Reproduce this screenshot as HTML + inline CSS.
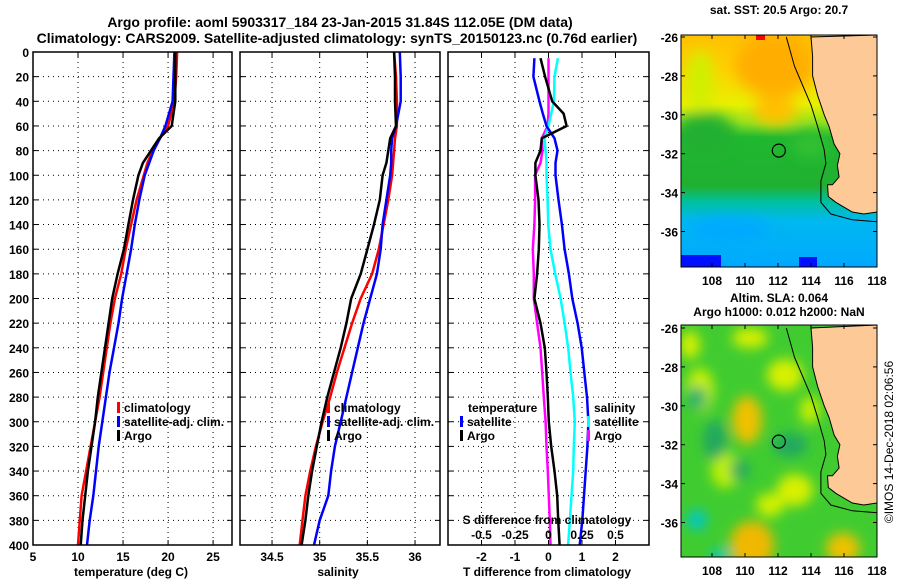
<!DOCTYPE html>
<html><head><meta charset="utf-8"><style>
html,body{margin:0;padding:0;background:#fff;}
svg{display:block;font-family:"Liberation Sans",sans-serif;font-weight:bold;}
</style></head><body>
<svg id="fig" width="900" height="580" viewBox="0 0 900 580" xmlns="http://www.w3.org/2000/svg">
<text x="340" y="27" font-size="14" text-anchor="middle">Argo profile: aoml 5903317_184 23-Jan-2015 31.84S 112.05E (DM data)</text>
<text x="337" y="43" font-size="14" text-anchor="middle">Climatology: CARS2009. Satellite-adjusted climatology: synTS_20150123.nc (0.76d earlier)</text>
<g id="plots"></g>
<g id="maps"></g>
<text transform="translate(893,442) rotate(-90)" font-size="12" font-weight="normal" text-anchor="middle">©IMOS 14-Dec-2018 02:06:56</text>
</svg>
<script>
// ---- data ----
const depthTS = [0,20,40,60,70,80,90,100,120,140,160,180,200,220,240,260,280,300,320,340,360,380,400];
const tempArgo = [20.8,20.8,20.8,20.4,19.0,18.1,17.2,16.7,16.1,15.6,15.1,14.4,13.8,13.4,13.0,12.6,12.2,11.9,11.5,11.1,10.8,10.5,10.3];
const tempClim = [21.0,20.9,20.7,20.0,19.1,18.3,17.7,17.3,16.5,15.9,15.3,14.8,14.1,13.6,13.2,12.8,12.4,11.9,11.4,10.9,10.4,10.2,10.0];
const tempSat = [20.7,20.6,20.5,19.7,19.1,18.4,17.9,17.4,16.8,16.3,15.9,15.4,14.9,14.5,14.0,13.5,13.1,12.7,12.3,12.0,11.7,11.3,11.0];
const salArgo = [35.78,35.79,35.79,35.80,35.74,35.72,35.70,35.66,35.63,35.57,35.50,35.43,35.33,35.28,35.22,35.15,35.08,35.02,34.97,34.92,34.88,34.85,34.81];
const salClim = [35.78,35.80,35.81,35.81,35.79,35.78,35.77,35.76,35.72,35.67,35.62,35.55,35.43,35.34,35.26,35.18,35.11,35.03,34.96,34.90,34.85,34.82,34.79];
const salSat = [35.84,35.85,35.85,35.80,35.76,35.75,35.75,35.74,35.70,35.66,35.64,35.60,35.53,35.46,35.40,35.34,35.28,35.22,35.16,35.12,35.09,35.00,34.94];
const depthDiff = [5,20,40,50,60,70,80,90,100,120,140,160,180,200,220,240,260,280,300,320,340,360,380,400];
const tDiffArgo = [-0.24,-0.1,0.11,0.45,0.54,-0.2,-0.24,-0.39,-0.39,-0.3,-0.27,-0.29,-0.34,-0.42,-0.24,-0.11,-0.06,-0.02,0.01,0.08,0.18,0.26,0.29,0.33];
const tDiffSat = [-0.42,-0.45,-0.27,-0.17,-0.06,0.18,0.27,0.21,0.21,0.3,0.4,0.48,0.61,0.71,0.87,0.99,1.07,1.15,1.19,1.16,1.11,1.06,1.01,0.93];
const sDiffArgo = [0.0,0.0,0.0,0.0,-0.007,-0.05,-0.045,-0.06,-0.1,-0.1,-0.105,-0.117,-0.11,-0.11,-0.085,-0.06,-0.047,-0.035,-0.022,-0.015,-0.005,0.002,0.01,0.015];
const sDiffSat = [0.07,0.045,0.04,0.02,0.0,-0.03,-0.022,-0.015,-0.015,-0.007,-0.002,0.015,0.05,0.09,0.12,0.147,0.164,0.184,0.196,0.189,0.184,0.172,0.16,0.146];
const depthTicks = [0,20,40,60,80,100,120,140,160,180,200,220,240,260,280,300,320,340,360,380,400];
const tempTicks = [5,10,15,20,25];
const salTicks = [34.5,35,35.5,36];
const tDiffTicks = [-2,-1,0,1,2];
const sDiffTicks = [-0.5,-0.25,0,0.25,0.5];
const lonTicks = [108,110,112,114,116,118];
const latTicks = [-26,-28,-30,-32,-34,-36];
const argoPos = [112.05,-31.84];

const NS='http://www.w3.org/2000/svg';
function mk(tag,attrs,parent,txt){const e=document.createElementNS(NS,tag);for(const k in attrs)e.setAttribute(k,attrs[k]);if(txt!==undefined)e.textContent=txt;parent.appendChild(e);return e;}
const plots=document.getElementById('plots');
const top0=52,bot=545;
const yD=d=>top0+(d/400)*(bot-top0);

function panel(name,x0,x1,dmin,dmax,ticks,fmt,showY){
  const g=mk('g',{},plots);
  
  
  const xs=v=>x0+(v-dmin)/(dmax-dmin)*(x1-x0);
  mk('rect',{x:x0,y:top0,width:x1-x0,height:bot-top0,fill:'#fff',stroke:'none'},g);
  depthTicks.forEach(d=>{
    const y=yD(d);
    if(d>0&&d<400)mk('line',{x1:x0,x2:x1,y1:y,y2:y,stroke:'#000','stroke-width':1,'stroke-dasharray':'1,4'},g);
    mk('line',{x1:x0,x2:x0+5,y1:y,y2:y,stroke:'#000'},g);
    mk('line',{x1:x1-5,x2:x1,y1:y,y2:y,stroke:'#000'},g);
    if(showY){const t=mk('text',{x:x0-4,y:y+5,'font-size':12,'text-anchor':'end'},g,String(d));}
  });
  ticks.forEach(v=>{
    const x=xs(v);
    if(x>x0+1&&x<x1-1)mk('line',{x1:x,x2:x,y1:top0,y2:bot,stroke:'#000','stroke-dasharray':'1,4'},g);
    mk('line',{x1:x,x2:x,y1:bot,y2:bot-5,stroke:'#000'},g);
    mk('line',{x1:x,x2:x,y1:top0,y2:top0+5,stroke:'#000'},g);
    const t=mk('text',{x:x,y:bot+16,'font-size':12,'text-anchor':'middle'},g,fmt(v));
    
    
  });
  return {g,xs};
}
function series(p,vals,depths,color,w,name){
  const pts=vals.map((v,i)=>p.xs(v).toFixed(1)+','+yD(depths[i]).toFixed(1)).join(' ');
  const e=mk('polyline',{points:pts,fill:'none',stroke:color,'stroke-width':w,'stroke-linejoin':'round'},p.g);
  
  
}
function frame(p,x0,x1){mk('rect',{x:x0,y:top0,width:x1-x0,height:bot-top0,fill:'none',stroke:'#000','stroke-width':1.5},p.g);}
function legendEntry(g,x,y,color,label,name){
  const e=mk('g',{},g);
  
  
  mk('rect',{x:x,y:y-10,width:3,height:11,fill:color},e);
  mk('text',{x:x+7,y:y,'font-size':12},e,label);
}

// panel 1 temperature
const p1=panel('temperature-panel',33,232,5,27.1,tempTicks,v=>String(v),true);
series(p1,tempClim,depthTS,'#f00',2.5,'temp-climatology-line');
series(p1,tempSat,depthTS,'#00f',2.5,'temp-satellite-line');
series(p1,tempArgo,depthTS,'#000',2.5,'temp-argo-line');
legendEntry(p1.g,117,412,'#f00','climatology','legend-climatology');
legendEntry(p1.g,117,426,'#00f','satellite-adj. clim.','legend-satellite');
legendEntry(p1.g,117,440,'#000','Argo','legend-argo');
frame(p1,33,232);
{const t=mk('text',{x:131,y:576,'font-size':12,'text-anchor':'middle'},p1.g,'temperature (deg C)');}

// panel 2 salinity
const p2=panel('salinity-panel',240,440,34.164,36.262,salTicks,v=>String(v),false);
series(p2,salClim,depthTS,'#f00',2.5,'sal-climatology-line');
series(p2,salSat,depthTS,'#00f',2.5,'sal-satellite-line');
series(p2,salArgo,depthTS,'#000',2.5,'sal-argo-line');
legendEntry(p2.g,327,412,'#f00','climatology','legend-climatology');
legendEntry(p2.g,327,426,'#00f','satellite-adj. clim.','legend-satellite');
legendEntry(p2.g,327,440,'#000','Argo','legend-argo');
frame(p2,240,440);
{const t=mk('text',{x:338,y:576,'font-size':12,'text-anchor':'middle'},p2.g,'salinity');}

// panel 3 differences
const p3=panel('difference-panel',448,649,-3,3,tDiffTicks,v=>String(v),false);
const sxs=v=>448+(v+0.75)/1.5*(649-448);
const pS={g:p3.g,xs:sxs};
series(pS,sDiffArgo,depthDiff,'#f0f',2.5,'s-diff-argo-line');
series(pS,sDiffSat,depthDiff,'#0ff',2.5,'s-diff-satellite-line');
series(p3,tDiffSat,depthDiff,'#00f',2.5,'t-diff-satellite-line');
series(p3,tDiffArgo,depthDiff,'#000',2.5,'t-diff-argo-line');
{const t=mk('text',{x:468,y:412,'font-size':12},p3.g,'temperature');}
legendEntry(p3.g,460,426,'#00f','satellite','legend-t-satellite');
legendEntry(p3.g,460,440,'#000','Argo','legend-t-argo');
{const t=mk('text',{x:594,y:412,'font-size':12},p3.g,'salinity');}
legendEntry(p3.g,587,426,'#0ff','satellite','legend-s-satellite');
legendEntry(p3.g,587,440,'#f0f','Argo','legend-s-argo');
{const t=mk('text',{x:547,y:524,'font-size':12,'text-anchor':'middle'},p3.g,'S difference from climatology');}
sDiffTicks.forEach(v=>{const t=mk('text',{x:sxs(v),y:539,'font-size':12,'text-anchor':'middle'},p3.g,String(v));});
frame(p3,448,649);
{const t=mk('text',{x:547,y:576,'font-size':12,'text-anchor':'middle'},p3.g,'T difference from climatology');}

// ---- maps ----
const maps=document.getElementById('maps');
const mx0=681,mx1=877;
const lonX=lo=>877-(118-lo)*16.5;
const coast=[[114.0,-26],[114.1,-27],[114.1,-28],[114.4,-29],[114.8,-30],[115.1,-30.6],[115.4,-31.5],[115.75,-32],[115.6,-32.6],[115.7,-33.2],[115.3,-33.6],[115.0,-33.6],[115.05,-34.2],[115.5,-34.5],[116.5,-35.0],[117.2,-35.1],[118,-35.0],[118,-26]];
const shelf=[[112.5,-26],[113.0,-27.5],[113.6,-28.7],[114.0,-29.5],[114.4,-30.6],[114.8,-31.8],[114.9,-32.5],[114.6,-33.4],[114.6,-34.5],[115.2,-35.1],[116.5,-35.4],[118,-35.5]];
function mapPanel(name,top,latTopPx,kind){
  const g=mk('g',{},maps);
  
  
  const latY=la=>latTopPx+(-26-la)*19.45;
  const bottom=top+232;
  const cid='clip'+kind;
  const cp=mk('clipPath',{id:cid},g);mk('rect',{x:mx0,y:top,width:mx1-mx0,height:bottom-top},cp);
  const inner=mk('g',{'clip-path':'url(#'+cid+')'},g);
  if(kind==='sst'){
    const d=mk('defs',{},g);
    const lg=mk('linearGradient',{id:'sstg',x1:0,y1:0,x2:0,y2:1},d);
    [[0,'#ffc000'],[0.15,'#ffd000'],[0.3,'#e8f000'],[0.38,'#90e020'],[0.44,'#20b830'],[0.65,'#20b030'],[0.72,'#00c0a0'],[0.8,'#00b8f0'],[1,'#00a8ff']].forEach(s=>mk('stop',{offset:s[0],'stop-color':s[1]},lg));
    const f=mk('filter',{id:'blur1'},d);mk('feGaussianBlur',{stdDeviation:7},f);
    mk('rect',{x:mx0,y:top,width:196,height:232,fill:'url(#sstg)'},inner);
    const bl=mk('g',{filter:'url(#blur1)'},inner);
    mk('ellipse',{cx:775,cy:65,rx:40,ry:32,fill:'#ffae00'},bl);
    mk('ellipse',{cx:775,cy:110,rx:22,ry:15,fill:'#ffc000'},bl);
    mk('ellipse',{cx:705,cy:135,rx:30,ry:22,fill:'#20b030'},bl);
    mk('ellipse',{cx:700,cy:80,rx:14,ry:30,fill:'#d0f000'},bl);
    mk('ellipse',{cx:810,cy:145,rx:18,ry:14,fill:'#30c030'},bl);
    mk('ellipse',{cx:730,cy:230,rx:40,ry:12,fill:'#00a8ff'},bl);
    mk('rect',{x:681,y:255,width:40,height:12,fill:'#0010ff'},inner);
    mk('rect',{x:799,y:257,width:18,height:10,fill:'#0010ff'},inner);
    mk('rect',{x:756,y:35,width:9,height:5,fill:'#f00'},inner);
  } else {
    const d=mk('defs',{},g);
    const f=mk('filter',{id:'blur2'},d);mk('feGaussianBlur',{stdDeviation:6},f);
    mk('rect',{x:mx0,y:top,width:196,height:232,fill:'#40cc30'},inner);
    const bl=mk('g',{filter:'url(#blur2)'},inner);
    [[747,420,15,24,'#f0c000'],[752,545,22,24,'#f0b800'],[843,548,17,15,'#f0c000'],[750,338,18,10,'#d8f000'],[785,375,18,16,'#d8f000'],[795,490,18,16,'#d8f000'],[700,390,14,22,'#c8f000'],[690,345,10,14,'#d8f000'],[725,470,14,18,'#c0f000'],[810,410,10,14,'#c8f000'],[770,505,14,12,'#d0f000']].forEach(e=>mk('ellipse',{cx:e[0],cy:e[1],rx:e[2],ry:e[3],fill:e[4]},bl));
    [[697,398,10,12,'#20b070'],[697,520,10,10,'#00c8c8'],[715,440,12,20,'#20a860'],[790,445,18,12,'#20a860'],[740,470,10,10,'#20a860'],[720,555,10,6,'#00c8c8']].forEach(e=>mk('ellipse',{cx:e[0],cy:e[1],rx:e[2],ry:e[3],fill:e[4]},bl));
  }
  const cpts=coast.map(p=>lonX(p[0]).toFixed(1)+','+latY(p[1]).toFixed(1));
  const land=mk('polygon',{points:cpts.join(' ')+' '+mx1+','+top,fill:'#fdc996',stroke:'#000','stroke-width':1},inner);
  
  
  mk('polyline',{points:shelf.map(p=>lonX(p[0]).toFixed(1)+','+latY(p[1]).toFixed(1)).join(' '),fill:'none',stroke:'#000','stroke-width':1},inner);
  const c=mk('circle',{cx:lonX(argoPos[0]),cy:latY(argoPos[1]),r:6.5,fill:'none',stroke:'#000','stroke-width':1.2},g);
  
  
  mk('rect',{x:mx0,y:top,width:mx1-mx0,height:bottom-top,fill:'none',stroke:'#000','stroke-width':1},g);
  lonTicks.forEach(lo=>{const x=lonX(lo);mk('line',{x1:x,x2:x,y1:top,y2:top+4,stroke:'#000'},g);mk('line',{x1:x,x2:x,y1:bottom,y2:bottom-4,stroke:'#000'},g);
    const t=mk('text',{x:x,y:bottom+18,'font-size':12,'text-anchor':'middle'},g,String(lo));});
  latTicks.forEach(la=>{const y=latY(la);mk('line',{x1:mx0,x2:mx0+4,y1:y,y2:y,stroke:'#000'},g);mk('line',{x1:mx1,x2:mx1-4,y1:y,y2:y,stroke:'#000'},g);
    const t=mk('text',{x:678,y:y+5,'font-size':12,'text-anchor':'end'},g,String(la));});
  return g;
}
const m1=mapPanel('sst-map',35,37,'sst');
{const t=mk('text',{x:779,y:14,'font-size':12,'text-anchor':'middle'},m1,'sat. SST: 20.5 Argo: 20.7');}
const m2=mapPanel('sla-map',325,328,'sla');
{const t=mk('text',{x:779,y:302,'font-size':12,'text-anchor':'middle'},m2,'Altim. SLA: 0.064');}
{const t=mk('text',{x:779,y:316,'font-size':12,'text-anchor':'middle'},m2,'Argo h1000: 0.012 h2000: NaN');}
</script>
</body></html>
